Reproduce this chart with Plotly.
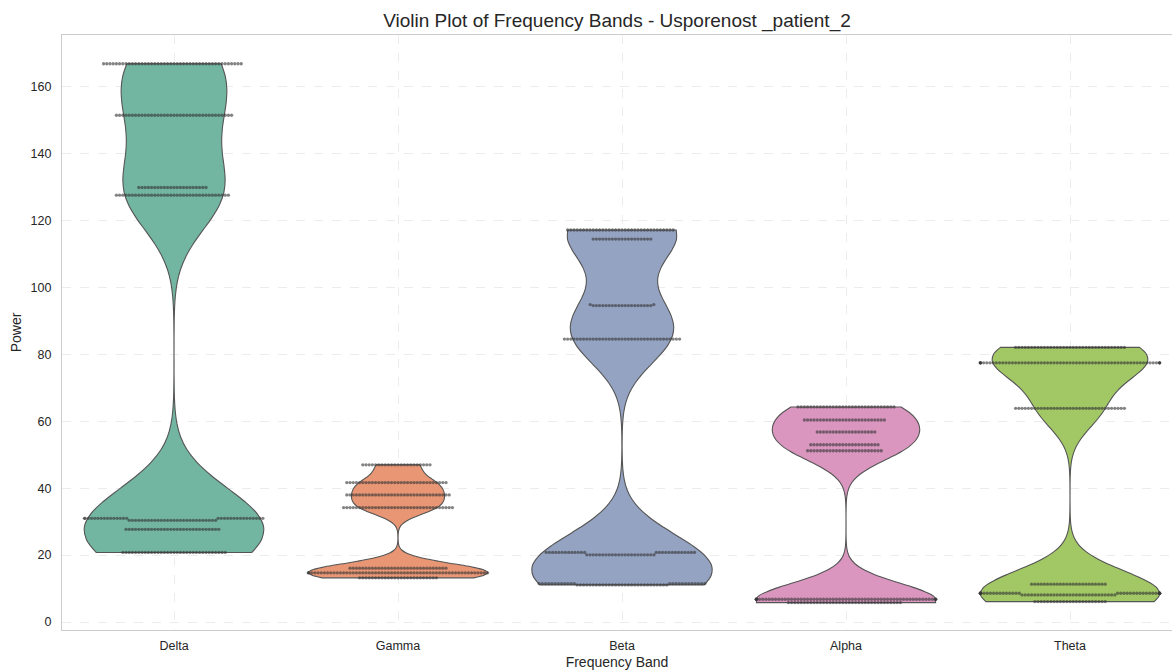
import numpy as np
import colorsys
import plotly.graph_objects as go

bands = ["Delta", "Gamma", "Beta", "Alpha", "Theta"]

delta_levels = [166.9, 151.5, 129.9, 127.6, 31.0, 30.4, 27.7, 20.8]
delta_counts = [44, 37, 22, 36, 30, 28, 30, 33]

gamma_levels = [47.0, 41.7, 38.0, 34.2, 16.1, 14.7, 13.2]
gamma_counts = [22, 32, 33, 35, 31, 58, 25]

beta_levels = [117.2, 114.5, 94.9, 94.6, 84.6, 20.8, 20.1, 11.5, 11.1]
beta_counts = [34, 19, 2, 19, 37, 26, 22, 24, 29]

alpha_levels = [64.3, 60.4, 56.8, 53.0, 51.2, 6.8, 5.8]
alpha_counts = [31, 26, 19, 22, 24, 62, 36]

theta_levels = [82.1, 77.5, 63.9, 11.3, 8.6, 8.1, 6.1]
theta_counts = [35, 62, 35, 24, 35, 30, 23]

palette = ["#66c2a5", "#fc8d62", "#8da0cb", "#e78ac3", "#a6d854"]

levels_all = [delta_levels, gamma_levels, beta_levels, alpha_levels, theta_levels]
counts_all = [delta_counts, gamma_counts, beta_counts, alpha_counts, theta_counts]

BW_FACTOR = 0.58   # kernel bandwidth relative to Scott's rule


def desaturate(hexcol, prop=0.75):
    r, g, b = (int(hexcol[i:i + 2], 16) / 255 for i in (1, 3, 5))
    h, l, s = colorsys.rgb_to_hls(r, g, b)
    r, g, b = colorsys.hls_to_rgb(h, l, s * prop)
    return "rgb(%d,%d,%d)" % (round(r * 255), round(g * 255), round(b * 255))


# pixel scales used for the swarm layout
PX_X = 224.0            # pixels per category unit
Y_RANGE = (-2.39, 175.5)
PLOT_H = 595.0
PX_Y = PLOT_H / (Y_RANGE[1] - Y_RANGE[0])
DOT = 3.2               # swarm dot spacing in pixels
HALF = 0.4              # gutter (half of width 0.8)


def swarm(values):
    vals = np.sort(np.asarray(values, float))
    ys = vals * PX_Y
    placed_y, placed_x = [], []
    offs = []
    for y in ys:
        py = np.array(placed_y)
        px = np.array(placed_x)
        if len(py):
            m = np.abs(py - y) < DOT
            ny, nx = py[m], px[m]
        else:
            ny, nx = np.array([]), np.array([])
        cands = [0.0]
        for yy, xx in zip(ny, nx):
            dx = np.sqrt(max(DOT ** 2 - (yy - y) ** 2, 0))
            cands += [xx + dx, xx - dx]
        cands = sorted(cands, key=lambda c: (abs(c), c))
        chosen = cands[-1]
        for c in cands:
            if len(ny) == 0 or np.all((nx - c) ** 2 + (ny - y) ** 2 >= DOT ** 2 - 1e-6):
                chosen = c
                break
        placed_y.append(y)
        placed_x.append(chosen)
        offs.append(chosen / PX_X)
    offs = np.clip(np.array(offs), -HALF, HALF)
    return vals, offs


fig = go.Figure()
for i, (band, lv, ct) in enumerate(zip(bands, levels_all, counts_all)):
    data = np.repeat(lv, ct)
    bw = BW_FACTOR * np.std(data, ddof=1) * len(data) ** (-0.2)
    fig.add_trace(go.Violin(
        y=data, x0=i, name=band, width=0.8, scalemode="width",
        spanmode="hard", bandwidth=bw, points=False,
        fillcolor=desaturate(palette[i]), opacity=1,
        line=dict(color="#555555", width=1.1),
        box_visible=False, meanline_visible=False, side="both",
        hoverinfo="skip", showlegend=False,
    ))

for i, (lv, ct) in enumerate(zip(levels_all, counts_all)):
    data = np.repeat(lv, ct)
    vals, offs = swarm(data)
    fig.add_trace(go.Scatter(
        x=i + offs, y=vals, mode="markers",
        marker=dict(size=3.3, color="rgba(55,55,55,0.62)", line=dict(width=0)),
        hoverinfo="skip", showlegend=False,
    ))

axis_common = dict(
    showgrid=True, gridcolor="#ececec", griddash="dash", gridwidth=1,
    showline=True, mirror=True, linecolor="#cccccc", linewidth=1.3,
    zeroline=False, ticks="", tickfont=dict(size=12.5, color="#262626"),
)

fig.update_layout(
    width=1172, height=670,
    margin=dict(l=62, r=0, t=35, b=40),
    plot_bgcolor="white", paper_bgcolor="white",
    font=dict(family="Liberation Sans, Arial, sans-serif", color="#262626"),
    title=dict(text="Violin Plot of Frequency Bands - Usporenost _patient_2",
               x=0.5, xref="paper", xanchor="center",
               y=1 - 20 / 670, yref="container", yanchor="middle",
               font=dict(size=19, color="#262626")),
    showlegend=False,
    violingap=0, violinmode="overlay",
)
fig.update_xaxes(
    **axis_common,
    range=[-0.5, -0.5 + 1110 / PX_X],
    tickmode="array", tickvals=list(range(len(bands))), ticktext=bands,
    ticklabelstandoff=4,
    title=dict(text="Frequency Band", font=dict(size=14), standoff=8),
    automargin=False,
)
fig.update_yaxes(
    **axis_common,
    range=list(Y_RANGE), tick0=0, dtick=20,
    ticklabelstandoff=7,
    title=dict(text="Power", font=dict(size=14), standoff=5),
    automargin=False,
)

fig.write_html("out.html", config={"displayModeBar": False},
               post_script="document.body.style.margin='0px';")
